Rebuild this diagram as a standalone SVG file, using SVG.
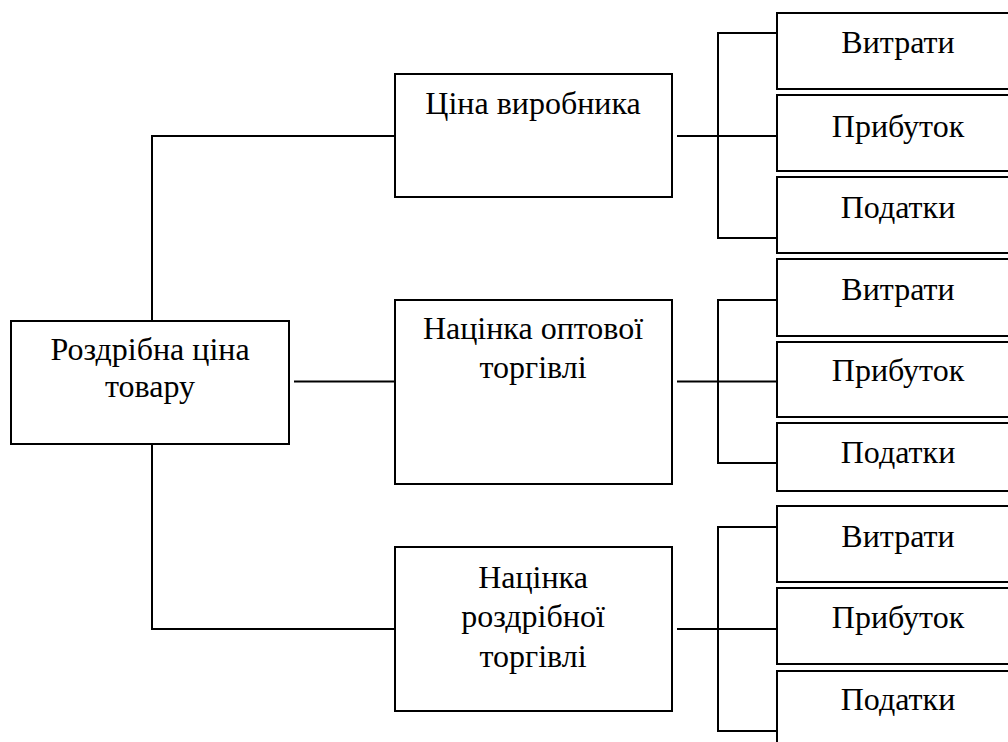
<svg xmlns="http://www.w3.org/2000/svg" width="1008" height="742" viewBox="0 0 1008 742">
<style>
.box{fill:#fff;stroke:#000;stroke-width:2}
.ln{fill:none;stroke:#000;stroke-width:2}
text{font-family:'Liberation Serif','DejaVu Serif',serif;font-size:32px;fill:#000;text-anchor:middle}
</style>
<rect x="0" y="0" width="1008" height="742" fill="#fff"/>
<g id="connectors">
<path class="ln" d="M152,320 V136 H395"/>
<path class="ln" d="M294,381.5 H395"/>
<path class="ln" d="M152,444 V629 H395"/>
<path class="ln" d="M677,136 H777 M777,33 H718 V238 H777"/>
<path class="ln" d="M677,381.5 H777 M777,300 H718 V463 H777"/>
<path class="ln" d="M677,629 H777 M777,527 H718 V731 H777"/>
</g>
<g id="root"><rect class="box" x="11" y="321" width="278" height="123"/><text x="150" y="360">Роздрібна ціна</text><text x="150" y="397">товару</text></g>
<g id="n1"><rect class="box" x="395" y="74" width="277" height="123"/><text x="533" y="114">Ціна виробника</text></g>
<g id="n2"><rect class="box" x="395" y="300" width="277" height="184"/><text x="533" y="339">Націнка оптової</text><text x="533" y="378">торгівлі</text></g>
<g id="n3"><rect class="box" x="395" y="547" width="277" height="164"/><text x="533" y="588">Націнка</text><text x="533" y="627">роздрібної</text><text x="533" y="667">торгівлі</text></g>
<g id="n1a"><rect class="box" x="777" y="13" width="250" height="76"/><text x="898" y="53">Витрати</text></g>
<g id="n1b"><rect class="box" x="777" y="95" width="250" height="76"/><text x="898" y="137">Прибуток</text></g>
<g id="n1c"><rect class="box" x="777" y="177" width="250" height="76"/><text x="898" y="218">Податки</text></g>
<g id="n2a"><rect class="box" x="777" y="259" width="250" height="77"/><text x="898" y="300">Витрати</text></g>
<g id="n2b"><rect class="box" x="777" y="342" width="250" height="75"/><text x="898" y="381">Прибуток</text></g>
<g id="n2c"><rect class="box" x="777" y="423" width="250" height="68"/><text x="898" y="463">Податки</text></g>
<g id="n3a"><rect class="box" x="777" y="506" width="250" height="76"/><text x="898" y="547">Витрати</text></g>
<g id="n3b"><rect class="box" x="777" y="588" width="250" height="76"/><text x="898" y="628">Прибуток</text></g>
<g id="n3c"><rect class="box" x="777" y="671" width="250" height="90"/><text x="898" y="710">Податки</text></g>
</svg>
